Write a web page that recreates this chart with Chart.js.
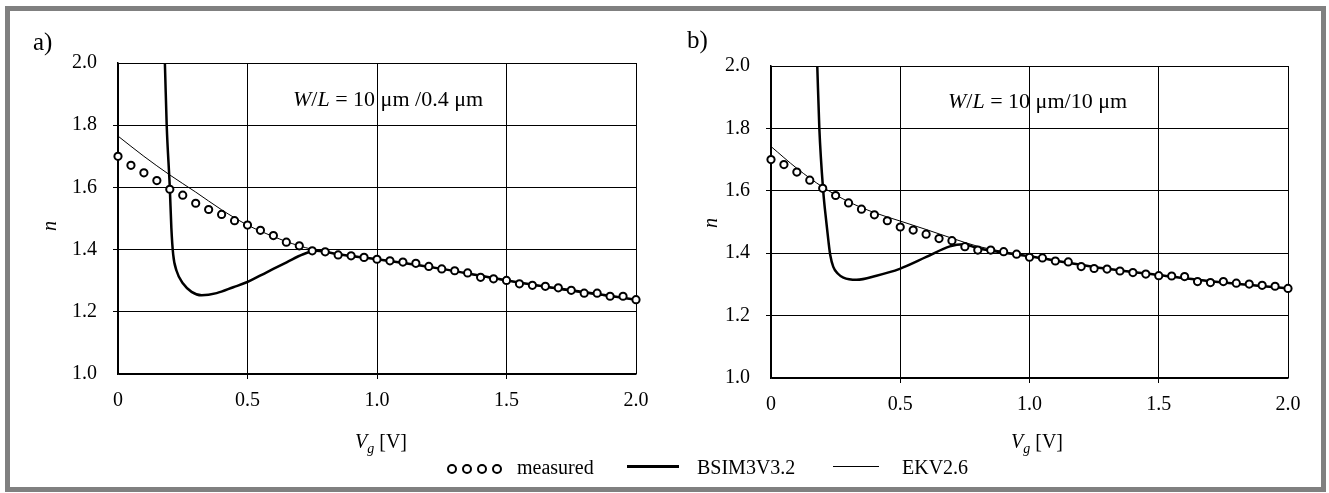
<!DOCTYPE html>
<html>
<head>
<meta charset="utf-8">
<title>Slope factor n versus Vg</title>
<script src="https://cdn.jsdelivr.net/npm/chart.js"></script>
<style>
  body { margin: 0; background: #fff; font-family: "Liberation Serif", "Times New Roman", serif; color: #000; }
  #frame { position: absolute; left: 5px; top: 6px; width: 1321px; height: 486px; border: 5px solid #808080; box-sizing: border-box; }
  canvas { position: absolute; top: 0; }
  .t { position: absolute; white-space: nowrap; font-size: 20px; line-height: 1; }
  .mid { transform: translate(-50%, -50%); }
  .rot { transform: translate(-50%, -50%) rotate(-90deg); font-style: italic; }
  i { font-style: italic; }
  sub { font-size: 14px; vertical-align: -5px; line-height: 0; }
  .dot { display: inline-block; width: 6px; height: 6px; border: 2px solid #000; border-radius: 50%; margin-right: 5px; vertical-align: middle; }
  .ln { position: absolute; background: #000; }
</style>
</head>
<body>
<div id="frame"></div>
<canvas id="chartA" width="660" height="493" style="left:0"></canvas>
<canvas id="chartB" width="669" height="493" style="left:660px"></canvas>

<!-- panel labels and axis titles -->
<div class="t" style="left:33px; top:29px; font-size:25px;">a)</div>
<div class="t" style="left:687px; top:27px; font-size:25px;">b)</div>
<div class="t rot" style="left:49px; top:226px;">n</div>
<div class="t rot" style="left:710px; top:223px;">n</div>
<div class="t mid" style="left:381px; top:441px;"><i>V<sub>g</sub></i> [V]</div>
<div class="t mid" style="left:1037px; top:441px;"><i>V<sub>g</sub></i> [V]</div>
<div class="t" style="left:293px; top:88px; font-size:22px;"><i>W</i>/<i>L</i> = 10 μm /0.4 μm</div>
<div class="t" style="left:948px; top:90px; font-size:22px;"><i>W</i>/<i>L</i> = 10 μm/10 μm</div>

<!-- legend -->
<div class="t" style="left:447px; top:457px;"><span class="dot"></span><span class="dot"></span><span class="dot"></span><span class="dot"></span></div>
<div class="t" style="left:517px; top:457px;">measured</div>
<div class="ln" style="left:627px; top:465px; width:52px; height:3px;"></div>
<div class="t" style="left:697px; top:457px;">BSIM3V3.2</div>
<div class="ln" style="left:833px; top:466px; width:46px; height:1px;"></div>
<div class="t" style="left:902px; top:457px;">EKV2.6</div>

<script>
// gate voltage of the measured points [V]
var vgMeasured = [0, 0.05, 0.1, 0.15, 0.2, 0.25, 0.3, 0.35, 0.4, 0.45, 0.5, 0.55, 0.6, 0.65, 0.7,
    0.75, 0.8, 0.85, 0.9, 0.95, 1.0, 1.05, 1.1, 1.15, 1.2, 1.25, 1.3, 1.35, 1.4, 1.45, 1.5,
    1.55, 1.6, 1.65, 1.7, 1.75, 1.8, 1.85, 1.9, 1.95, 2.0];

// a) W/L = 10um/0.4um
var nMeasuredA = [1.700, 1.671, 1.647, 1.622, 1.594, 1.575, 1.549, 1.529, 1.513, 1.493, 1.479, 1.462, 1.445, 1.424, 1.412,
    1.396, 1.393, 1.383, 1.380, 1.375, 1.369, 1.364, 1.360, 1.356, 1.346, 1.338, 1.332, 1.325, 1.311, 1.306, 1.301,
    1.290, 1.285, 1.282, 1.277, 1.269, 1.260, 1.260, 1.250, 1.250, 1.239];
var vgBsimA = [0.176, 0.181, 0.188, 0.200, 0.206, 0.213, 0.226, 0.252, 0.284, 0.323, 0.381, 0.445, 0.497, 0.574, 0.651, 0.715, 0.767, 0.85, 1.0, 1.25, 1.5, 1.75, 2.0];
var nBsimA = [2.10, 2.00, 1.80, 1.60, 1.47, 1.385, 1.332, 1.290, 1.264, 1.253, 1.260, 1.279, 1.295, 1.327, 1.359, 1.385, 1.396, 1.385, 1.369, 1.338, 1.301, 1.269, 1.239];
var vgEkv = [0, 0.1, 0.2, 0.3, 0.4, 0.5, 0.6, 0.7, 0.8, 0.9, 1.0, 1.2, 1.4, 1.6, 1.8, 2.0];
var nEkvA = [1.765, 1.700, 1.640, 1.585, 1.528, 1.479, 1.442, 1.412, 1.392, 1.380, 1.369, 1.346, 1.314, 1.285, 1.260, 1.239];

// b) W/L = 10um/10um
var nMeasuredB = [1.700, 1.684, 1.660, 1.634, 1.608, 1.585, 1.561, 1.541, 1.523, 1.504, 1.484, 1.474, 1.461, 1.447, 1.440,
    1.421, 1.410, 1.410, 1.405, 1.397, 1.387, 1.385, 1.375, 1.372, 1.357, 1.351, 1.349, 1.343, 1.338, 1.333, 1.328,
    1.327, 1.325, 1.309, 1.306, 1.309, 1.304, 1.301, 1.297, 1.294, 1.287];
var vgBsimB = [0.175, 0.179, 0.187, 0.202, 0.214, 0.222, 0.229, 0.241, 0.258, 0.280, 0.331, 0.408, 0.498, 0.601, 0.692, 0.744, 0.8, 1.0, 1.25, 1.5, 1.75, 2.0];
var nBsimB = [2.10, 2.00, 1.80, 1.60, 1.50, 1.44, 1.395, 1.356, 1.335, 1.322, 1.315, 1.328, 1.350, 1.388, 1.422, 1.429, 1.416, 1.390, 1.356, 1.330, 1.306, 1.287];
var nEkvB = [1.742, 1.672, 1.612, 1.565, 1.530, 1.503, 1.476, 1.448, 1.422, 1.405, 1.390, 1.362, 1.340, 1.320, 1.302, 1.287];

var xTicks = [0, 0.5, 1.0, 1.5, 2.0];
var yTicks = [1.0, 1.2, 1.4, 1.6, 1.8, 2.0];

function pairs(xs, ys) {
    return xs.map(function (x, i) { return { x: x, y: ys[i] }; });
}

// no tick marks on the frame edges, only on inner grid lines
function innerTick(ctx) {
    var s = ctx.scale;
    return (ctx.tick && (ctx.tick.value === s.min || ctx.tick.value === s.max)) ? 'rgba(0,0,0,0)' : '#000';
}

function makeChart(id, box, measured, vgBsim, bsim, ekv) {
    var font = { family: '"Liberation Serif", "Times New Roman", serif', size: 20 };
    return new Chart(document.getElementById(id), {
        type: 'line',
        data: {
            datasets: [
                { data: pairs(vgMeasured, measured), showLine: false, clip: false, pointRadius: 3.6, pointBorderWidth: 2,
                  pointBorderColor: '#000', pointBackgroundColor: '#fff', borderColor: '#000' },
                { data: pairs(vgBsim, bsim), borderColor: '#000', borderWidth: 2.5, pointRadius: 0,
                  cubicInterpolationMode: 'monotone' },
                { data: pairs(vgEkv, ekv), borderColor: '#000', borderWidth: 1, pointRadius: 0,
                  cubicInterpolationMode: 'monotone' }
            ]
        },
        options: {
            responsive: false,
            animation: false,
            events: [],
            layout: { padding: { top: box.top, right: box.right, bottom: 0, left: 0 } },
            plugins: { legend: { display: false }, tooltip: { enabled: false } },
            scales: {
                x: {
                    type: 'linear', min: 0, max: 2,
                    afterBuildTicks: function (s) { s.ticks = xTicks.map(function (v) { return { value: v }; }); },
                    afterFit: function (s) { s.height = box.xh; },
                    ticks: { font: font, color: '#000', padding: 10, maxRotation: 0,
                             callback: function (v) { return v === 0 ? '0' : v.toFixed(1); } },
                    grid: { color: '#000', lineWidth: 1, tickLength: 5, tickColor: innerTick },
                    border: { color: '#000', width: 1.5 }
                },
                y: {
                    min: 1, max: 2,
                    afterBuildTicks: function (s) { s.ticks = yTicks.map(function (v) { return { value: v }; }); },
                    afterFit: function (s) { s.width = box.yw; },
                    ticks: { font: font, color: '#000', padding: 16,
                             callback: function (v) { return v.toFixed(1); } },
                    grid: { color: '#000', lineWidth: 1, tickLength: 5, tickColor: innerTick },
                    border: { color: '#000', width: 1.5 }
                }
            }
        }
    });
}

makeChart('chartA', { top: 63, right: 24, xh: 119, yw: 118 }, nMeasuredA, vgBsimA, nBsimA, nEkvA);
makeChart('chartB', { top: 66, right: 41, xh: 115, yw: 111 }, nMeasuredB, vgBsimB, nBsimB, nEkvB);
</script>
</body>
</html>
